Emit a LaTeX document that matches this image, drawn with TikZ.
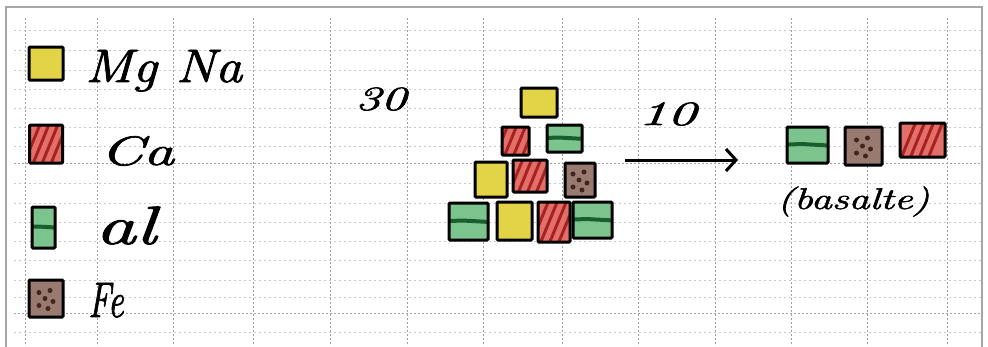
\documentclass[tikz,border=0pt]{standalone}
\usepackage{fontspec}
\usepackage{xcolor}
\usepackage{tikz}
\usetikzlibrary{arrows.meta}

\newfontfamily\handfont[FakeBold=1.6]{Latin Modern Roman}

\definecolor{grainyellow}{RGB}{226,212,70}
\definecolor{grainred}{RGB}{226,112,104}
\definecolor{stripered}{RGB}{168,34,34}
\definecolor{graingreen}{RGB}{124,196,142}
\definecolor{bargreen}{RGB}{26,94,46}
\definecolor{grainbrown}{RGB}{152,122,112}
\definecolor{dotbrown}{RGB}{66,38,28}
\definecolor{gridgray}{RGB}{120,120,120}

\tikzset{
  grain/.style={draw=black, line width=3pt, inner sep=0pt, rounded corners=1pt},
  sz/.style 2 args={minimum width=#1pt, minimum height=#2pt},
  yellowsq/.style={grain, fill=grainyellow},
  redsq/.style={grain, fill=grainred,
    path picture={\foreach \k in {-14,-5,4,13}
      \draw[line width=3pt, stripered] ([shift={(\k pt-9pt,-22pt)}]path picture bounding box.center)
        -- ([shift={(\k pt+9pt,22pt)}]path picture bounding box.center);}},
  greensq/.style={grain, fill=graingreen,
    path picture={\draw[line width=4pt, bargreen] ([shift={(-30pt,0pt)}]path picture bounding box.center)
      -- ([shift={(-6pt,1pt)}]path picture bounding box.center)
      -- ([shift={(30pt,-1pt)}]path picture bounding box.center);}},
  brownsq/.style={grain, fill=grainbrown,
    path picture={\foreach \p in {(-7pt,6pt),(4pt,8pt),(-1pt,0pt),(7pt,-3pt),(-7pt,-7pt),(2pt,-10pt)}
      \fill[dotbrown] ([shift={\p}]path picture bounding box.center) circle (2.5pt);}},
  hand/.style={font=\handfont\itshape, inner sep=0pt, anchor=base west},
  minorgrid/.style={gridgray!40, line width=0.5pt, dash pattern=on 2pt off 3pt},
  majorgrid/.style={gridgray!70, line width=0.7pt, dash pattern=on 2pt off 2pt}
}

\begin{document}
\begin{tikzpicture}[x=1pt, y=-1pt]
  \useasboundingbox (0,0) rectangle (988,346);
  \clip (0,0) rectangle (988,346);
  \fill[white] (0,0) rectangle (988,346);
  \foreach \gy in {30,50,70,89,108,127,146,183,203,222,241,260,280,297,332}
    \draw[minorgrid] (14,\gy) -- (982,\gy);
  \foreach \gy in {163,313}
    \draw[majorgrid] (14,\gy) -- (982,\gy);
  \foreach \gx in {25,97,173,253,330,407,483,562,638,715,791,867,947}
    \draw[majorgrid] (\gx,18) -- (\gx,346);
  \draw[gray!70, line width=2pt] (6,7) rectangle (982,360);

  \node[yellowsq, sz={34}{33}] (yleg) at (46,63.5) {};
  \node[redsq, sz={33}{38}] (rleg) at (46,144) {};
  \node[greensq, sz={23}{41}] (gleg) at (43.5,227.5) {};
  \node[brownsq, sz={34}{37}] (fleg) at (46,298.5) {};
  \node[hand] (mgna) at (85,82) {\scalebox{1.15}[1]{\fontsize{47}{47}\selectfont Mg Na}};
  \node[hand] (ca) at (100,165) {\scalebox{1.5}[1]{\fontsize{41}{41}\selectfont Ca}};
  \node[hand] (al) at (95,244) {\scalebox{1.5}[1]{\fontsize{54}{54}\selectfont al}};
  \node[hand] (fe) at (88,317) {\scalebox{0.7}[1]{\fontsize{50}{50}\selectfont Fe}};

  \node[hand] (thirty) at (355,110) {\scalebox{1.5}[1]{\fontsize{34}{34}\selectfont 30}};
  \node[yellowsq, sz={36}{29}] (p1) at (539,102.5) {};
  \node[redsq, sz={27}{28}] (p2) at (515.5,141) {};
  \node[greensq, sz={35}{27}] (p3) at (564.5,138.5) {};
  \node[yellowsq, sz={32}{35}] (p4) at (491,179.5) {};
  \node[redsq, sz={34}{32}] (p5) at (530,176) {};
  \node[brownsq, sz={30}{34}] (p6) at (580,180) {};
  \node[greensq, sz={39}{37}] (p7) at (468.5,221.5) {};
  \node[yellowsq, sz={35}{38}] (p8) at (514.5,221) {};
  \node[redsq, sz={32}{40}] (p9) at (554,222) {};
  \node[greensq, sz={39}{36}] (p10) at (592.5,220) {};

  \node[hand] (ten) at (638,125) {\scalebox{1.7}[1]{\fontsize{34}{34}\selectfont 10}};
  \coordinate (arrS) at (625,160);
  \coordinate (arrE) at (738,160);
  \draw[line width=3pt, -{Straight Barb[length=10pt, width=22pt, line width=3pt]}] (arrS) -- (arrE);

  \node[greensq, sz={41}{36}] (b1) at (807.5,145) {};
  \node[brownsq, sz={37}{38}] (b2) at (863.5,146) {};
  \node[redsq, sz={45}{34}] (b3) at (922.5,140) {};
  \node[hand] (basalte) at (777,209) {\scalebox{1.4}[1]{\fontsize{30}{30}\selectfont (basalte)}};
\end{tikzpicture}
\end{document}
